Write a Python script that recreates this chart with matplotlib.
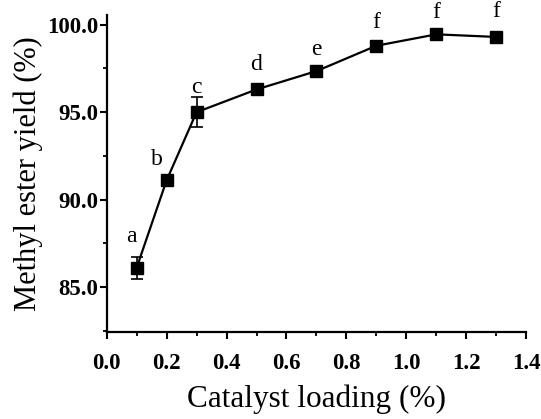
import matplotlib
matplotlib.use('Agg')
import matplotlib.pyplot as plt
from matplotlib.ticker import MultipleLocator, FormatStrFormatter

# Data
loading = [0.1, 0.2, 0.3, 0.5, 0.7, 0.9, 1.1, 1.3]
yield_pct = [86.1, 91.1, 95.0, 96.3, 97.35, 98.8, 99.45, 99.3]
yield_err = [0.65, 0.25, 0.85, 0.15, 0.15, 0.15, 0.1, 0.25]
letters = ['a', 'b', 'c', 'd', 'e', 'f', 'f', 'f']

# label offsets in pixels from each point
label_offsets = [(-5, 31), (-10, 21), (0, 25), (0, 25), (0, 22), (0, 23), (0, 22), (0, 25)]

plt.rcParams['font.family'] = ['Liberation Serif', 'DejaVu Serif']

fig = plt.figure(figsize=(5.41, 4.19), dpi=100)
ax = fig.add_axes([0.197, 0.208, 0.776, 0.756])

ax.errorbar(loading, yield_pct, yerr=yield_err, color='black', marker='s',
            markersize=9, linewidth=1.6, elinewidth=1.2, capsize=4.5, capthick=1.2)

for x, y, lab, off in zip(loading, yield_pct, letters, label_offsets):
    ax.annotate(lab, xy=(x, y), xytext=off, textcoords='offset pixels',
                ha='center', va='center', fontsize=17)

ax.set_xlim(0.0, 1.4)
ax.set_ylim(82.45, 100.55)
ax.xaxis.set_major_locator(MultipleLocator(0.2))
ax.xaxis.set_minor_locator(MultipleLocator(0.1))
ax.yaxis.set_major_locator(MultipleLocator(5))
ax.yaxis.set_minor_locator(MultipleLocator(2.5))
ax.xaxis.set_major_formatter(FormatStrFormatter('%.1f'))
ax.yaxis.set_major_formatter(FormatStrFormatter('%.1f'))

for side in ['top', 'right']:
    ax.spines[side].set_visible(False)
for side in ['left', 'bottom']:
    ax.spines[side].set_linewidth(1.6)

ax.tick_params(which='major', length=5, width=1.5, labelsize=16.5, pad=1)
ax.tick_params(axis='x', which='major', pad=10)
ax.tick_params(which='minor', length=3, width=1.3)
for lbl in ax.get_xticklabels() + ax.get_yticklabels():
    lbl.set_fontweight('bold')

ax.set_xlabel('Catalyst loading (%)', fontsize=22.5, labelpad=8)
ax.set_ylabel('Methyl ester yield (%)', fontsize=22, labelpad=3)

fig.savefig('out.png', dpi=100)
